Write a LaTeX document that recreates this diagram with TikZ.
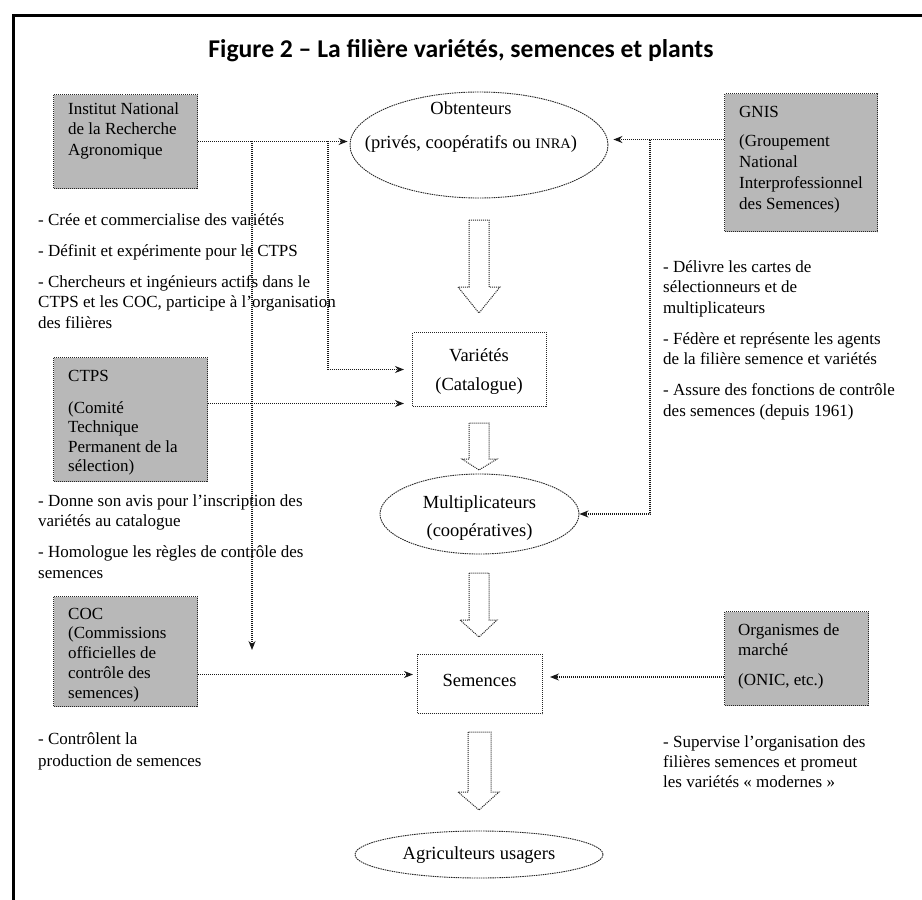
\documentclass[tikz,border=0pt]{standalone}
\usepackage{graphicx}
\usepackage{fontspec}
\setmainfont{Liberation Serif}
\newfontfamily\titlefont{Carlito}
\usetikzlibrary{shapes.geometric,arrows.meta,calc}
\newcommand\Lft[2][20.5pt]{\vtop{\baselineskip=#1\relax\lineskiplimit=-20pt\halign{##\hfil\cr#2\crcr}}}
\newcommand\Ctr[2][20pt]{\vtop{\baselineskip=#1\relax\lineskiplimit=-20pt\halign{\hfil##\hfil\cr#2\crcr}}}
\newcommand\gap{\noalign{\vskip10.5pt}}
\begin{document}
\begin{tikzpicture}[x=1pt,y=-1pt,
  conn/.style={line width=1.1pt,dash pattern=on 1pt off 1pt,draw=black!90},
  arr/.style={conn,-{Stealth[length=9pt,width=7pt]}},
  shadebox/.style={rectangle,draw=black!85,line width=1pt,dash pattern=on 1pt off 1pt,fill=black!28,inner sep=0,anchor=north west},
  whitebox/.style={rectangle,draw=black!85,line width=1pt,dash pattern=on 1pt off 1pt,fill=white,inner sep=0,anchor=north west},
  ell/.style={ellipse,draw=black!85,line width=0.9pt,dash pattern=on 1.5pt off 0.8pt,inner sep=0},
  txt/.style={inner sep=0,anchor=base west,font=\fontsize{17}{20.5}\selectfont},
  ctxt/.style={inner sep=0,anchor=base,font=\fontsize{18.5}{20}\selectfont},
  blk/.style={draw=black!85,line width=1pt,dash pattern=on 1pt off 1pt,fill=white}
]
\useasboundingbox (0,0) rectangle (922,900);
\draw[line width=3pt] (13,15) rectangle (935,915);
\node[inner sep=0,anchor=base] (title) at (461,57) {\resizebox{505pt}{18pt}{\titlefont\bfseries Figure 2 – La filière variétés, semences et plants}};

% shaded boxes
\node[shadebox,minimum width=144pt,minimum height=94pt] (inra) at (53,94) {};
\node[shadebox,minimum width=154pt,minimum height=124pt] (ctps) at (53,357) {};
\node[shadebox,minimum width=144pt,minimum height=110pt] (coc) at (53,596) {};
\node[shadebox,minimum width=153pt,minimum height=138pt] (gnis) at (724,93) {};
\node[shadebox,minimum width=144pt,minimum height=94pt] (org) at (724,611) {};

\node[txt] (inra-t) at (68,114) {\Lft{Institut National\cr de la Recherche\cr Agronomique}};
\node[txt] (ctps-t) at (68,381) {\Lft[19.5pt]{CTPS\cr\noalign{\vskip12.5pt} (Comité\cr Technique\cr Permanent de la\cr sélection)}};
\node[txt] (coc-t) at (68,619) {\Lft[19.75pt]{COC\cr (Commissions\cr officielles de\cr contrôle des\cr semences)}};
\node[txt] (gnis-t) at (739,117) {\Lft[21pt]{GNIS\cr\noalign{\vskip8pt} (Groupement\cr National\cr Interprofessionnel\cr des Semences)}};
\node[txt] (org-t) at (738,635) {\Lft[20pt]{Organismes de\cr marché\cr\gap (ONIC, etc.)}};

% central nodes
\node[ell,minimum width=258pt,minimum height=106pt] (obt) at (479,145) {};
\node[whitebox,minimum width=134pt,minimum height=74pt] (var) at (412,332) {};
\node[ell,minimum width=199pt,minimum height=80pt] (mult) at (479.5,514) {};
\node[whitebox,minimum width=125pt,minimum height=59pt] (sem) at (417,654) {};
\node[ell,minimum width=248pt,minimum height=47pt] (agri) at (479,854.5) {};

\node[ctxt] (obt-t) at (471,114) {\Ctr{Obtenteurs\cr\noalign{\vskip14pt} (privés, coopératifs ou {\fontsize{14.5}{14.5}\selectfont INRA})}};
\node[ctxt] (var-t) at (479,361) {\Ctr[29pt]{Variétés\cr (Catalogue)}};
\node[ctxt] (mult-t) at (479.5,508) {\Ctr[28pt]{Multiplicateurs\cr (coopératives)}};
\node[ctxt] (sem-t) at (479.5,686) {Semences};
\node[ctxt] (agri-t) at (479,859) {Agriculteurs usagers};

% descriptive texts
\node[txt] (l1) at (38,225) {\Lft{- Crée et commercialise des variétés\cr\gap - Définit et expérimente pour le CTPS\cr\gap - Chercheurs et ingénieurs actifs dans le\cr CTPS et les COC, participe à l’organisation\cr des filières}};
\node[txt] (l2) at (38,506) {\Lft{- Donne son avis pour l’inscription des\cr variétés au catalogue\cr\gap - Homologue les règles de contrôle des\cr semences}};
\node[txt] (l3) at (38,744) {\Lft[22pt]{- Contrôlent la\cr production de semences}};
\node[txt] (r1) at (663,272) {\Lft{- Délivre les cartes de\cr sélectionneurs et de\cr multiplicateurs\cr\gap - Fédère et représente les agents\cr de la filière semence et variétés\cr\gap - Assure des fonctions de contrôle\cr des semences (depuis 1961)}};
\node[txt] (r2) at (663,747) {\Lft[20pt]{- Supervise l’organisation des\cr filières semences et promeut\cr les variétés « modernes »}};

% block arrows
\draw[blk] (469,220) -- (469,287) -- (458,287) -- (479,313) -- (500,287) -- (489,287) -- (489,220) -- cycle;
\draw[blk] (469,423) -- (469,459) -- (462,459) -- (479,470) -- (497,459) -- (489,459) -- (489,423) -- cycle;
\draw[blk] (469,573) -- (469,620) -- (460,620) -- (479,637) -- (497,620) -- (489,620) -- (489,573) -- cycle;
\draw[blk] (468,732) -- (468,792) -- (458,792) -- (479,810) -- (499,792) -- (491,792) -- (491,732) -- cycle;

% connectors
\coordinate (j1) at (252,141);
\coordinate (j1end) at (252,650);
\coordinate (j2) at (328,141);
\coordinate (yc) at (0,403.5);
\coordinate (ys) at (0,674.5);
\coordinate (yg) at (0,139.5);
\coordinate (j3) at (650,139.5);
\coordinate (yo) at (0,677);

\draw[arr,shorten >=2pt] (inra.east) -- (inra.east -| obt.west);
\draw[arr] (j1) -- (j1end);
\draw[arr,shorten >=8pt] (j2) |- (var.west);
\draw[arr,shorten >=8pt] (ctps.east |- yc) -- (var.west |- yc);
\draw[arr,shorten >=4pt] (coc.east |- ys) -- (sem.west |- ys);
\draw[arr,shorten >=5pt] (gnis.west |- yg) -- (obt.east |- yg);
\draw[arr] (j3) |- (mult.east);
\draw[arr,shorten >=7pt] (org.west |- yo) -- (sem.east |- yo);
\end{tikzpicture}
\end{document}
